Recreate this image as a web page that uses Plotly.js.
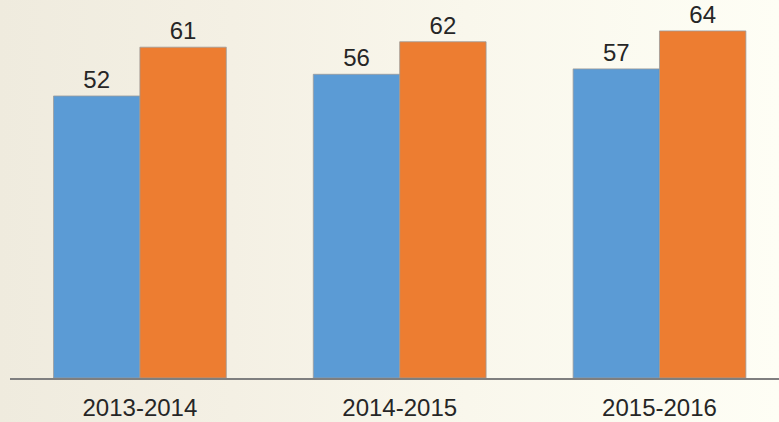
<!DOCTYPE html>
<html>
<head>
<meta charset="utf-8">
<script src="https://cdn.plot.ly/plotly-3.0.1.min.js"></script>
<style>
  html, body { margin: 0; padding: 0; }
  body {
    width: 779px; height: 422px; overflow: hidden;
    background: linear-gradient(to right, #efebde 0%, #f4f0e4 30%, #f9f7ec 60%, #fefef5 100%);
  }
  #chart { width: 779px; height: 422px; }
</style>
</head>
<body>
<div id="chart"></div>
<script>
const categories = ["2013-2014", "2014-2015", "2015-2016"];
const seriesA = [52, 56, 57];
const seriesB = [61, 62, 64];

const font = "Liberation Sans, Arial, sans-serif";

const traces = [
  {
    type: "bar", x: categories, y: seriesA, name: "A",
    marker: { color: "#5b9bd5", line: { color: "#9a9a9a", width: 0.8 } },
    text: seriesA.map(String), textposition: "outside", cliponaxis: false,
    textfont: { family: font, size: 24, color: "#262626" }
  },
  {
    type: "bar", x: categories, y: seriesB, name: "B",
    marker: { color: "#ed7d31", line: { color: "#9a9a9a", width: 0.8 } },
    text: seriesB.map(String), textposition: "outside", cliponaxis: false,
    textfont: { family: font, size: 24, color: "#262626" }
  }
];

const layout = {
  width: 779, height: 422,
  margin: { l: 10, r: 0, t: 0, b: 44, pad: 0 },
  paper_bgcolor: "rgba(0,0,0,0)",
  plot_bgcolor: "rgba(0,0,0,0)",
  showlegend: false,
  barmode: "group",
  bargap: 0.335,
  bargroupgap: 0,
  xaxis: {
    type: "category",
    range: [-0.5, 2.46],
    showline: true, linecolor: "#7f7f7f", linewidth: 1.5,
    showgrid: false, zeroline: false,
    ticks: "", ticklen: 0,
    ticklabelstandoff: 8,
    tickfont: { family: font, size: 24, color: "#262626" },
    fixedrange: true
  },
  yaxis: {
    range: [0, 69.7],
    visible: false, showgrid: false, zeroline: false,
    fixedrange: true
  }
};

Plotly.newPlot("chart", traces, layout, { displayModeBar: false, staticPlot: true });
</script>
</body>
</html>
